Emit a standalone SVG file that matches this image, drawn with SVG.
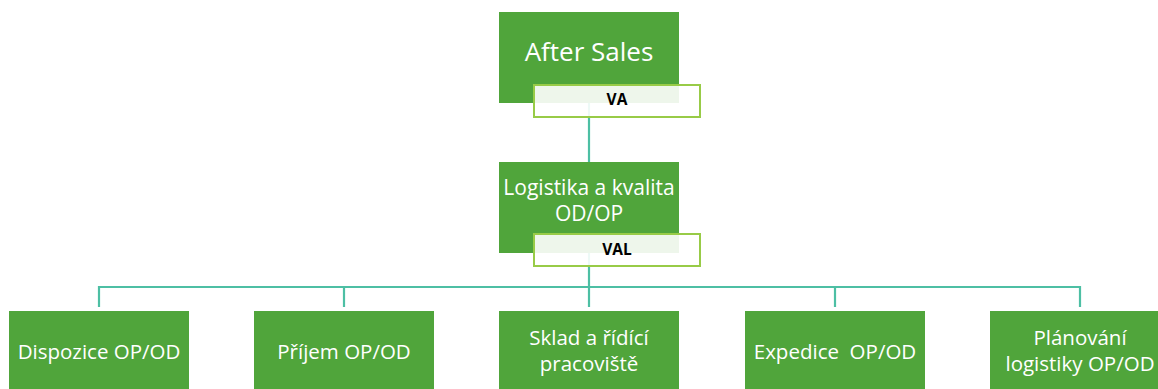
<svg xmlns="http://www.w3.org/2000/svg" width="1158" height="389" viewBox="0 0 1158 389">
  <style>
    .box { fill: #50a53b; }
    .lbl { fill: #ffffff; fill-opacity: 0.9; stroke: #98cb47; stroke-width: 2; }
    .t { font-family: "Open Sans", "Liberation Sans", sans-serif; fill: #ffffff; text-anchor: middle; }
    .lt { font-family: "Open Sans", "Liberation Sans", sans-serif; font-weight: bold; font-size: 15.5px; fill: #000000; text-anchor: middle; }
    .conn { fill: none; stroke: #4dbfa4; stroke-width: 2.2; }
  </style>
  <rect width="1158" height="389" fill="#ffffff"/>

  <!-- connectors -->
  <g id="connectors">
    <path class="conn" d="M589 103 V162"/>
    <path class="conn" d="M589 253 V307"/>
    <path class="conn" d="M99 307 V287 H1080 V307"/>
    <path class="conn" d="M344 287 V307"/>
    <path class="conn" d="M835 287 V307"/>
  </g>

  <g id="after-sales">
    <rect class="box" x="499" y="12" width="180" height="91"/>
    <text class="t" x="589" y="61" font-size="26">After Sales</text>
    <rect class="lbl" x="534" y="85" width="166" height="32"/>
    <text class="lt" x="617" y="105">VA</text>
  </g>

  <g id="logistika">
    <rect class="box" x="499" y="162" width="180" height="91"/>
    <text class="t" x="589" y="195" font-size="21">Logistika a kvalita</text>
    <text class="t" x="589" y="221" font-size="21">OD/OP</text>
    <rect class="lbl" x="534" y="234" width="166" height="32"/>
    <text class="lt" x="617" y="255">VAL</text>
  </g>

  <g id="dispozice">
    <rect class="box" x="9" y="311" width="180" height="90"/>
    <text class="t" x="99" y="359" font-size="20.5">Dispozice OP/OD</text>
  </g>

  <g id="prijem">
    <rect class="box" x="254" y="311" width="180" height="90"/>
    <text class="t" x="344" y="359" font-size="20.5">Příjem OP/OD</text>
  </g>

  <g id="sklad">
    <rect class="box" x="499" y="311" width="180" height="90"/>
    <text class="t" x="589" y="345" font-size="20.5">Sklad a řídící</text>
    <text class="t" x="589" y="371" font-size="20.5">pracoviště</text>
  </g>

  <g id="expedice">
    <rect class="box" x="745" y="311" width="180" height="90"/>
    <text class="t" x="835" y="359" font-size="20.5" xml:space="preserve">Expedice  OP/OD</text>
  </g>

  <g id="planovani">
    <rect class="box" x="990" y="311" width="180" height="90"/>
    <text class="t" x="1080" y="345" font-size="20.5">Plánování</text>
    <text class="t" x="1080" y="371" font-size="20.5">logistiky OP/OD</text>
  </g>
</svg>
